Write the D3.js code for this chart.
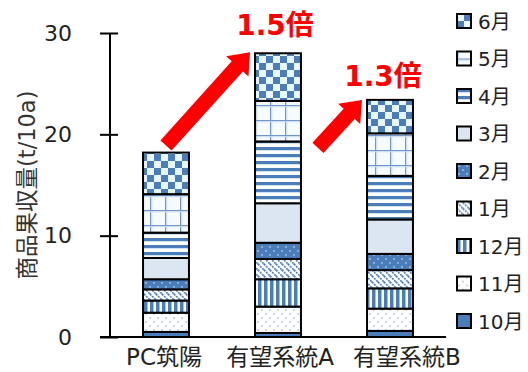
<!DOCTYPE html>
<html><head><meta charset="utf-8">
<script src="https://cdn.jsdelivr.net/npm/d3@7"></script>
<style>html,body{margin:0;padding:0;background:#fff;}svg{display:block;}</style>
</head><body>
<svg id="c" width="528" height="372"></svg>
<script>
// ---- data ----
const categories = ["PC筑陽", "有望系統A", "有望系統B"];
const months = ["10月", "11月", "12月", "1月", "2月", "3月", "4月", "5月", "6月"];
const v10 = [0.5, 0.4, 0.6];
const v11 = [1.9, 2.6, 2.2];
const v12 = [1.2, 2.7, 2.0];
const v1  = [1.1, 2.0, 1.8];
const v2  = [1.0, 1.6, 1.6];
const v3  = [2.1, 3.9, 3.4];
const v4  = [2.5, 6.1, 4.3];
const v5  = [3.8, 4.0, 4.2];
const v6  = [4.1, 4.7, 3.3];
const yTicks = [0, 10, 20, 30];
const ratioLabels = ["1.5倍", "1.3倍"];
const yTitle = "商品果収量(t/10a)";

const seriesValues = [v10, v11, v12, v1, v2, v3, v4, v5, v6];
const table = categories.map((c, i) => {
  const o = {cat: c};
  months.forEach((m, k) => o[m] = seriesValues[k][i]);
  return o;
});

const svg = d3.select("#c");
const BLUE = "#4a7ebb";
const FONT = "'DejaVu Sans','Noto Sans CJK JP',sans-serif";

// ---- patterns ----
const defs = svg.append("defs");
function pat(id, w, h) {
  return defs.append("pattern").attr("id", id).attr("patternUnits", "userSpaceOnUse")
    .attr("width", w).attr("height", h);
}
// 11月 sparse dots
let p = pat("p11", 8, 8);
p.append("rect").attr("width", 8).attr("height", 8).attr("fill", "#fff");
p.append("circle").attr("cx", 2).attr("cy", 2).attr("r", 0.8).attr("fill", "#8aa6cf");
p.append("circle").attr("cx", 6).attr("cy", 6).attr("r", 0.8).attr("fill", "#8aa6cf");
// 12月 vertical stripes
p = pat("p12", 6, 6);
p.append("rect").attr("width", 6).attr("height", 6).attr("fill", "#fff");
p.append("rect").attr("width", 3.5).attr("height", 6).attr("fill", BLUE);
// 1月 diagonal
p = pat("p1", 6, 6);
p.append("rect").attr("width", 6).attr("height", 6).attr("fill", "#fff");
p.append("path").attr("d", "M0,0L6,6M-1,5L1,7M5,-1L7,1").attr("stroke", BLUE).attr("stroke-width", 1.6).attr("stroke-dasharray", "2,1");
// 2月 blue with white dots
p = pat("p2", 8, 8);
p.append("rect").attr("width", 8).attr("height", 8).attr("fill", BLUE);
p.append("circle").attr("cx", 2).attr("cy", 3).attr("r", 0.8).attr("fill", "#dfe8f5");
p.append("circle").attr("cx", 6).attr("cy", 7).attr("r", 0.8).attr("fill", "#dfe8f5");
// 4月 horizontal stripes
p = pat("p4", 7, 7);
p.append("rect").attr("width", 7).attr("height", 7).attr("fill", "#fff");
p.append("rect").attr("width", 7).attr("height", 3).attr("fill", BLUE);
p.append("rect").attr("y", 3).attr("width", 7).attr("height", 1).attr("fill", "#cfe3ef");
// 5月 grid
p = pat("p5", 15, 15);
p.append("rect").attr("width", 15).attr("height", 15).attr("fill", "#f6fbfe");
p.append("rect").attr("x", 0).attr("width", 1.3).attr("height", 15).attr("fill", "#6f97cb");
p.append("rect").attr("x", 1.3).attr("width", 1).attr("height", 15).attr("fill", "#d3e2f1");
p.append("rect").attr("y", 0).attr("width", 15).attr("height", 1.3).attr("fill", "#6f97cb");
p.append("rect").attr("y", 1.3).attr("width", 15).attr("height", 1).attr("fill", "#d3e2f1");
// 6月 checker
p = pat("p6", 14, 14);
p.append("rect").attr("width", 14).attr("height", 14).attr("fill", "#e9f6fb");
p.append("rect").attr("width", 7).attr("height", 7).attr("fill", BLUE);
p.append("rect").attr("x", 7).attr("y", 7).attr("width", 7).attr("height", 7).attr("fill", BLUE);

const fills = {
  "10月": BLUE, "11月": "url(#p11)", "12月": "url(#p12)", "1月": "url(#p1)",
  "2月": "url(#p2)", "3月": "#dce6f2", "4月": "url(#p4)", "5月": "url(#p5)", "6月": "url(#p6)"
};

// ---- scales ----
const y = d3.scaleLinear().domain([0, 30]).range([337, 33]);
const x = d3.scaleBand().domain(categories).range([110, 446]).paddingInner(0.59).paddingOuter(0.295);

const stack = d3.stack().keys(months)(table);

// ---- bars ----
const gBars = svg.append("g");
stack.forEach(layer => {
  gBars.append("g").selectAll("rect").data(layer).join("rect")
    .attr("x", d => x(d.data.cat))
    .attr("width", x.bandwidth())
    .attr("y", d => y(d[1]))
    .attr("height", d => y(d[0]) - y(d[1]))
    .attr("fill", fills[layer.key])
    .attr("stroke", "#000").attr("stroke-width", 2);
});

// ---- axis ----
const ax = svg.append("g").attr("transform", "translate(110,0)")
  .call(d3.axisLeft(y).tickValues(yTicks).tickSize(10).tickPadding(28));
ax.select(".domain").remove();
ax.selectAll(".tick line").attr("x1", 8).attr("stroke", "#000").attr("stroke-width", 2);
ax.selectAll(".tick text").attr("font-family", FONT).attr("font-size", 22).attr("fill", "#222");
svg.append("line").attr("x1", 110).attr("x2", 110).attr("y1", y(0)).attr("y2", y(30))
  .attr("stroke", "#000").attr("stroke-width", 2);
svg.append("line").attr("x1", 100).attr("x2", 446).attr("y1", y(0)).attr("y2", y(0))
  .attr("stroke", "#000").attr("stroke-width", 2);

// y title
svg.append("text").attr("transform", `translate(35,${(y(0) + y(30)) / 2}) rotate(-90)`)
  .attr("text-anchor", "middle").attr("font-family", FONT).attr("font-size", 22.5).attr("fill", "#333")
  .text(yTitle);

// category labels
const labelShift = [-2, 2, 17];
svg.append("g").selectAll("text").data(categories).join("text")
  .attr("x", (d, i) => x(d) + x.bandwidth() / 2 + labelShift[i])
  .attr("y", 365)
  .attr("text-anchor", "middle").attr("font-family", FONT).attr("font-size", 23).attr("fill", "#222")
  .text(d => d);

// ---- arrows ----
const totals = categories.map((c, i) => d3.sum(seriesValues, s => s[i]));
function arrow(tail, tip) {
  const dx = tip[0] - tail[0], dy = tip[1] - tail[1];
  const L = Math.hypot(dx, dy), ux = dx / L, uy = dy / L, nx = -uy, ny = ux;
  const sw = 7.5, hw = 15, hl = 19;
  const bx = tip[0] - ux * hl, by = tip[1] - uy * hl;
  const pts = [
    [tail[0] + nx * sw, tail[1] + ny * sw], [bx + nx * sw, by + ny * sw], [bx + nx * hw, by + ny * hw],
    tip, [bx - nx * hw, by - ny * hw], [bx - nx * sw, by - ny * sw], [tail[0] - nx * sw, tail[1] - ny * sw]
  ];
  return "M" + pts.map(p => p.join(",")).join("L") + "Z";
}
const arrows = [
  {tail: [x(categories[0]) + x.bandwidth() / 2, y(totals[0]) - 7], tip: [x(categories[1]) - 5, y(totals[1]) - 1]},
  {tail: [x(categories[1]) + x.bandwidth() + 17, y(totals[2]) + 48], tip: [x(categories[2]) - 5, y(totals[2])]}
];
svg.append("g").selectAll("path").data(arrows).join("path")
  .attr("d", d => arrow(d.tail, d.tip)).attr("fill", "#ff0000");

// ratio labels
const ratioPos = [
  {cat: categories[1], total: totals[1], dx: -3, dy: -18},
  {cat: categories[2], total: totals[2], dx: -7, dy: -14}
];
svg.append("g").selectAll("text").data(ratioLabels).join("text")
  .attr("x", (d, i) => x(ratioPos[i].cat) + x.bandwidth() / 2 + ratioPos[i].dx)
  .attr("y", (d, i) => y(ratioPos[i].total) + ratioPos[i].dy)
  .attr("text-anchor", "middle").attr("font-family", FONT).attr("font-weight", "bold")
  .attr("font-size", 28).attr("fill", "#ff0000")
  .text(d => d);

// ---- legend ----
const legendMonths = months.slice().reverse();
const lg = svg.append("g").selectAll("g").data(legendMonths).join("g")
  .attr("transform", (d, i) => `translate(457,${21 + i * 37.5})`);
lg.append("rect").attr("x", 0).attr("y", -7).attr("width", 14).attr("height", 14)
  .attr("fill", d => fills[d]).attr("stroke", "#000").attr("stroke-width", 2);
lg.append("text").attr("x", 21).attr("y", 7.5).attr("font-family", FONT).attr("font-size", 20)
  .attr("fill", "#222").text(d => d);
</script>
</body></html>
